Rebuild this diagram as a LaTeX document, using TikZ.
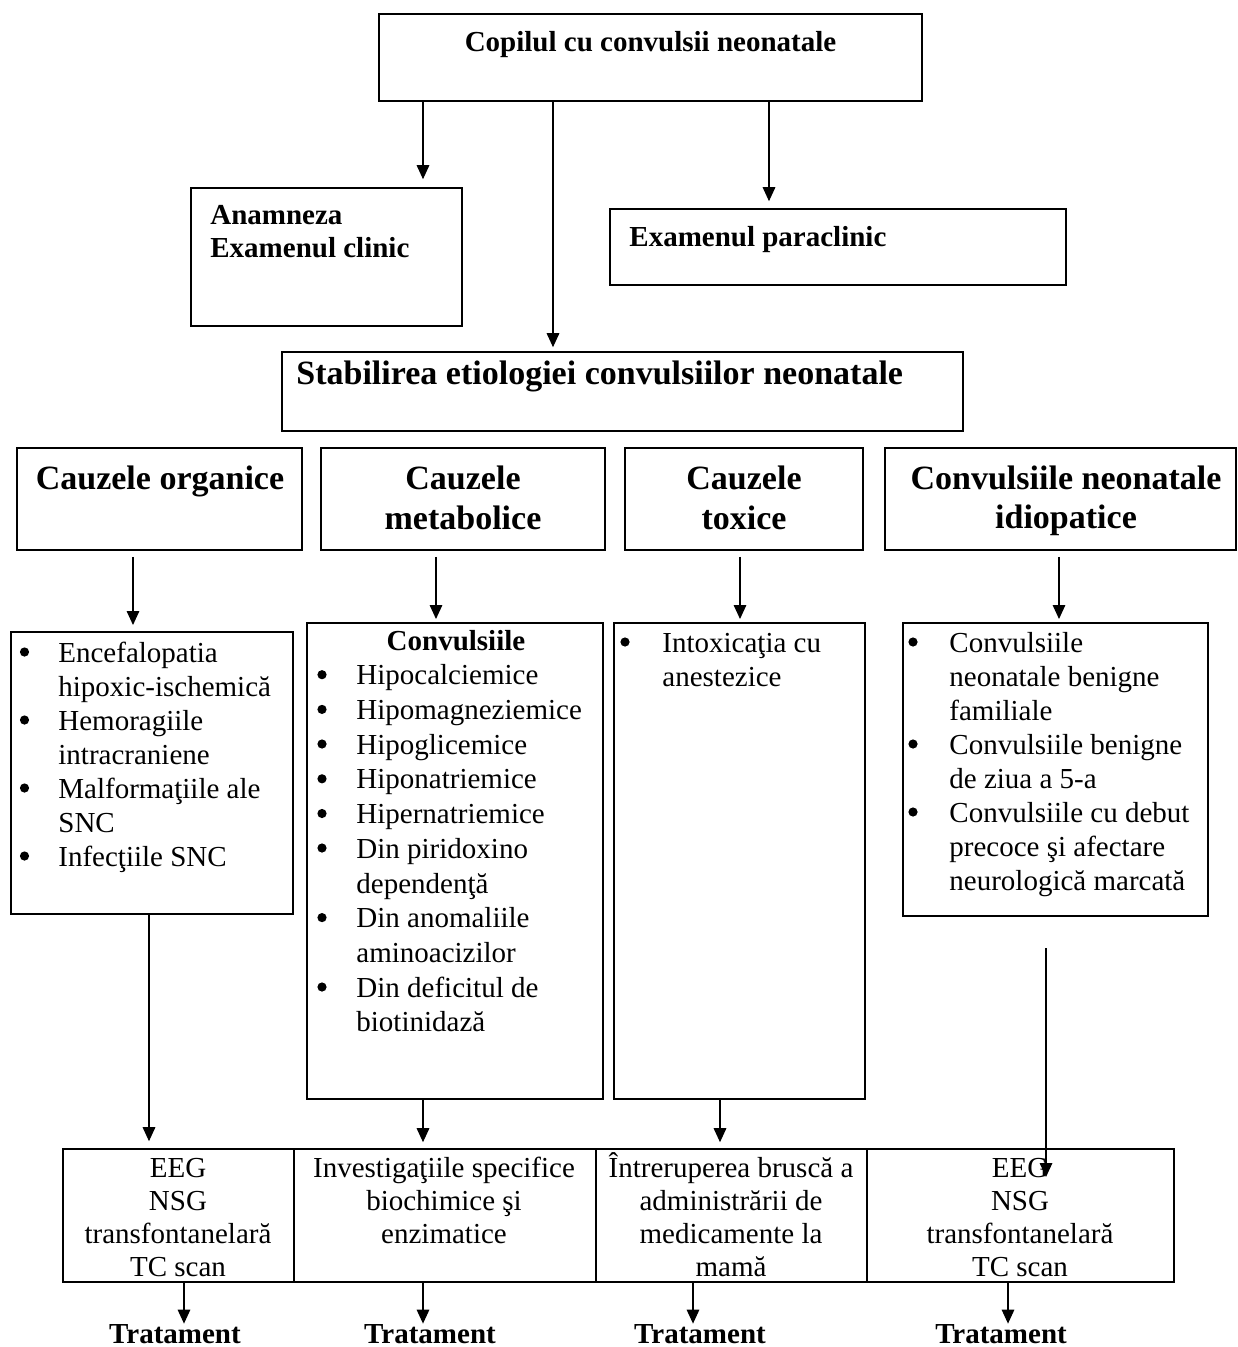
\documentclass[tikz,border=0pt]{standalone}
\usepackage{fontspec}
\setmainfont{Liberation Serif}
\usetikzlibrary{arrows.meta,fit}
\begin{document}
\begin{tikzpicture}[x=0.5pt,y=-0.5pt,
  box/.style={draw, line width=0.8pt, inner sep=0pt},
  lbox/.style={draw, line width=1pt, inner sep=0pt},
  arr/.style={line width=0.6pt, -{Triangle[length=7pt,width=6.3pt]}},
  body/.style={inner sep=0pt, font=\fontsize{14.5}{17.3}\selectfont},
  bhead/.style={inner sep=0pt, font=\fontsize{14.5}{17.3}\selectfont\bfseries},
  bbig/.style={inner sep=0pt, font=\fontsize{17}{20}\selectfont\bfseries},
  dot/.style={circle, fill, inner sep=0pt, minimum size=4.6pt},
]
\useasboundingbox (0,0) rectangle (1237,1347);

% ---------- top part ----------
\node[box, fit={(379,14) (922,101)}] (top) {};
\node[bhead, anchor=base] (ttop) at (650.5,52) {Copilul cu convulsii neonatale};

\node[box, fit={(191,188) (462,326)}] (anam) {};
\node[bhead, anchor=base west] (tanam1) at (210,225) {Anamneza};
\node[bhead, anchor=base west] (tanam2) at (210,258) {Examenul clinic};

\node[box, fit={(610,209) (1066,285)}] (parac) {};
\node[bhead, anchor=base west] (tparac) at (629,247) {Examenul paraclinic};

\node[box, fit={(282,352) (963,431)}] (stab) {};
\node[bbig, anchor=base west] (tstab) at (296,385) {Stabilirea etiologiei convulsiilor neonatale};

\coordinate (xa) at (423,0);
\coordinate (xb) at (553,0);
\coordinate (xc) at (769,0);
\draw[arr, shorten >=4pt] (top.south -| xa) -- (anam.north -| xa);
\draw[arr, shorten >=2pt] (top.south -| xb) -- (stab.north -| xb);
\draw[arr, shorten >=3.5pt] (top.south -| xc) -- (parac.north -| xc);

% ---------- category row ----------
\node[box, fit={(17,448) (302,550)}] (r1) {};
\node[box, fit={(321,448) (605,550)}] (r2) {};
\node[box, fit={(625,448) (863,550)}] (r3) {};
\node[box, fit={(885,448) (1236,550)}] (r4) {};
\node[bbig, anchor=base] (tr1) at (160,489) {Cauzele organice};
\node[bbig, anchor=base] (tr2a) at (463,489) {Cauzele};
\node[bbig, anchor=base] (tr2b) at (463,529) {metabolice};
\node[bbig, anchor=base] (tr3a) at (744,489) {Cauzele};
\node[bbig, anchor=base] (tr3b) at (744,529) {toxice};
\node[bbig, anchor=base] (tr4a) at (1066,489) {Convulsiile neonatale};
\node[bbig, anchor=base] (tr4b) at (1066,528) {idiopatice};

% ---------- lists ----------
\node[lbox, fit={(11,632) (293,914)}] (l1) {};
\node[lbox, fit={(307,623) (603,1099)}] (l2) {};
\node[lbox, fit={(614,623) (865,1099)}] (l3) {};
\node[lbox, fit={(903,623) (1208,916)}] (l4) {};

\foreach \yy/\tt [count=\i] in {662/Encefalopatia, 696/hipoxic-ischemică, 730/Hemoragiile, 764/intracraniene, 798/Malformaţiile ale, 832/SNC, 866/Infecţiile SNC}
  \node[body, anchor=base west] (l1t\i) at (58,\yy) {\tt};
\foreach \yy [count=\i] in {662,730,798,866}
  \node[dot] (l1b\i) at (24.5,\yy-10) {};

\node[bhead, anchor=base] (l2h) at (456,650) {Convulsiile};
\foreach \yy/\tt [count=\i] in {684.7/Hipocalciemice, 719.4/Hipomagneziemice, 754/Hipoglicemice, 788.8/Hiponatriemice, 823.5/Hipernatriemice, 858/Din piridoxino, 893/dependenţă, 927.6/Din anomaliile, 962/aminoacizilor, 997/Din deficitul de, 1031.7/biotinidază}
  \node[body, anchor=base west] (l2t\i) at (356,\yy) {\tt};
\foreach \yy [count=\i] in {684.7,719.4,754,788.8,823.5,858,927.6,997}
  \node[dot] (l2b\i) at (322,\yy-10) {};

\foreach \yy/\tt [count=\i] in {652/Intoxicaţia cu, 686/anestezice}
  \node[body, anchor=base west] (l3t\i) at (662,\yy) {\tt};
\node[dot] (l3b1) at (625,642) {};

\foreach \yy/\tt [count=\i] in {652/Convulsiile, 686/neonatale benigne, 720/familiale, 754/Convulsiile benigne, 788/de ziua a 5-a, 822/Convulsiile cu debut, 856/precoce şi afectare, 890/neurologică marcată}
  \node[body, anchor=base west] (l4t\i) at (949,\yy) {\tt};
\foreach \yy [count=\i] in {652,754,822}
  \node[dot] (l4b\i) at (913,\yy-10) {};

\coordinate (xr1) at (133,0);
\coordinate (xr2) at (436,0);
\coordinate (xr3) at (740,0);
\coordinate (xr4) at (1059,0);
\draw[arr, shorten <=3pt, shorten >=3pt] (r1.south -| xr1) -- (l1.north -| xr1);
\draw[arr, shorten <=3pt, shorten >=1.5pt] (r2.south -| xr2) -- (l2.north -| xr2);
\draw[arr, shorten <=3pt, shorten >=1.5pt] (r3.south -| xr3) -- (l3.north -| xr3);
\draw[arr, shorten <=3pt, shorten >=1.5pt] (r4.south -| xr4) -- (l4.north -| xr4);

% ---------- bottom row ----------
\node[box, fit={(63,1149) (294,1282)}] (b1) {};
\node[box, fit={(294,1149) (596,1282)}] (b2) {};
\node[box, fit={(596,1149) (867,1282)}] (b3) {};
\node[box, fit={(867,1149) (1174,1282)}] (b4) {};

\foreach \yy/\tt [count=\i] in {1177/EEG, 1210/NSG, 1243/transfontanelară, 1276/TC scan}
  \node[body, anchor=base] (b1t\i) at (178,\yy) {\tt};
\foreach \yy/\tt [count=\i] in {1177/Investigaţiile specifice, 1210/biochimice şi, 1243/enzimatice}
  \node[body, anchor=base] (b2t\i) at (444,\yy) {\tt};
\foreach \yy/\tt [count=\i] in {1177/Întreruperea bruscă a, 1210/administrării de, 1243/medicamente la, 1276/mamă}
  \node[body, anchor=base] (b3t\i) at (731,\yy) {\tt};
\foreach \yy/\tt [count=\i] in {1177/EEG, 1210/NSG, 1243/transfontanelară, 1276/TC scan}
  \node[body, anchor=base] (b4t\i) at (1020,\yy) {\tt};

\coordinate (xl1) at (149,0);
\coordinate (xl2) at (423,0);
\coordinate (xl3) at (720,0);
\coordinate (l4end) at (1046,1177);
\draw[arr, shorten >=3.5pt] (l1.south -| xl1) -- (b1.north -| xl1);
\draw[arr, shorten >=3pt] (l2.south -| xl2) -- (b2.north -| xl2);
\draw[arr, shorten >=3pt] (l3.south -| xl3) -- (b3.north -| xl3);
\draw[arr, shorten <=15.5pt] (l4.south -| l4end) -- (l4end);

% ---------- treatment ----------
\node[bhead, anchor=base] (tt1) at (175,1343) {Tratament};
\node[bhead, anchor=base] (tt2) at (430,1343) {Tratament};
\node[bhead, anchor=base] (tt3) at (700,1343) {Tratament};
\node[bhead, anchor=base] (tt4) at (1001,1343) {Tratament};

\coordinate (xt1) at (184,0);
\coordinate (xt2) at (423,0);
\coordinate (xt3) at (693,0);
\coordinate (xt4) at (1008,0);
\draw[arr] (b1.south -| xt1) -- (tt1.north -| xt1);
\draw[arr] (b2.south -| xt2) -- (tt2.north -| xt2);
\draw[arr] (b3.south -| xt3) -- (tt3.north -| xt3);
\draw[arr] (b4.south -| xt4) -- (tt4.north -| xt4);
\end{tikzpicture}
\end{document}
